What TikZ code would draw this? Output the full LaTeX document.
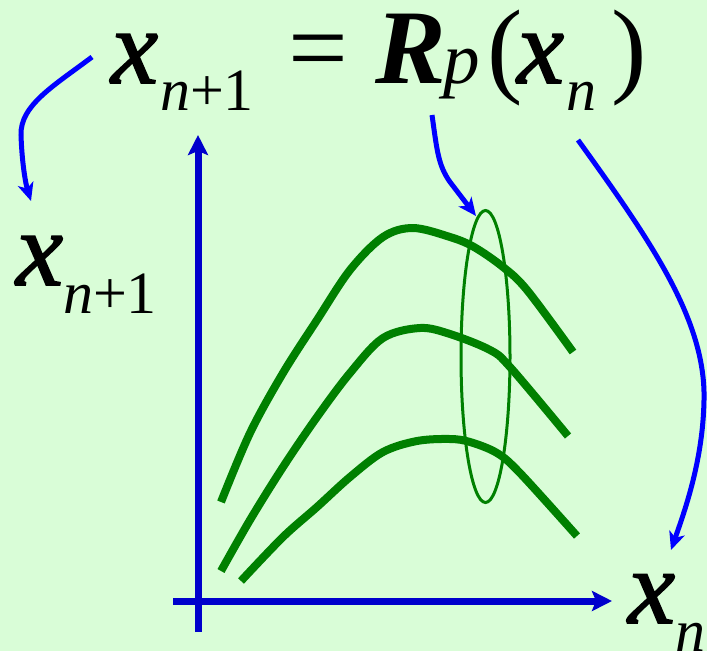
\documentclass[tikz,border=0pt]{standalone}
\usepackage{fontspec}
\setmainfont{Liberation Serif}
\newfontfamily\tnr{Liberation Serif}
\newfontface\xface{Liberation Serif Italic}[FakeBold=1.6]
\usetikzlibrary{arrows.meta,shapes.geometric}
\newcommand\mainsz{\fontsize{106}{110}\selectfont}
\newcommand\subsz{\fontsize{60}{62}\selectfont}
\newcommand\psz{\fontsize{73}{75}\selectfont}
\definecolor{bgc}{RGB}{217,253,215}
\definecolor{axisc}{RGB}{0,0,204}
\definecolor{annc}{RGB}{0,0,255}
\definecolor{curvec}{RGB}{0,128,0}
\tikzset{
  txt/.style={inner sep=0pt, outer sep=0pt, anchor=base west, text=black, font=\tnr},
  axisline/.style={draw=axisc, line width=7pt, -{Stealth[length=20pt,width=20pt,inset=4pt]}},
  annarrow/.style={draw=annc, line width=5pt, -{Stealth[length=18pt,width=16pt,inset=5pt]}},
  curveline/.style={draw=curvec, line width=8pt},
  ringline/.style={draw=curvec, line width=3pt}
}
\begin{document}
\begin{tikzpicture}[x=1pt,y=-1pt]
\fill[bgc] (0,0) rectangle (707,651);
\useasboundingbox (0,0) rectangle (707,651);
% title
\node[txt] (tx) at (111,83) {\mainsz\xface x};
\node[txt] (tsub) at (160,110) {\subsz\itshape n\upshape +1};
\node[txt] (teq) at (288,83) {\mainsz =};
\node[txt] (tR) at (375,83) {\mainsz\bfseries\itshape R};
\node[txt] (tp) at (443,83) {\psz\itshape p};
\node[txt] (tlp) at (487,83) {\mainsz (};
\node[txt] (tx2) at (517,83) {\mainsz\xface x};
\node[txt] (tn2) at (566,110) {\subsz\itshape n};
\node[txt] (trp) at (611,83) {\mainsz )};
% left label
\node[txt] (lx) at (16,285) {\mainsz\xface x};
\node[txt] (lsub) at (63,313) {\subsz\itshape n\upshape +1};
% bottom right label
\node[txt] (bx) at (628,623) {\mainsz\xface x};
\node[txt] (bn) at (675,651) {\subsz\itshape n};
% axes
\coordinate (origin) at (198,601);
\coordinate (ybot) at (198,632);
\coordinate (ytop) at (198,135);
\coordinate (xleft) at (173,601);
\coordinate (xright) at (612,601);
\draw[axisline] (ybot) -- (ytop);
\draw[axisline] (xleft) -- (xright);
% curves
\draw[curveline] plot[smooth, tension=0.55] coordinates {(221,502) (250,433) (283,373) (317,320) (350,270) (383,237) (413,228) (450,237) (474,247) (503,267) (527,290) (573,352)};
\draw[curveline] plot[smooth, tension=0.55] coordinates {(221,571) (250,520) (283,467) (317,417) (350,373) (383,338) (420,328) (450,334) (490,350) (510,367) (568,436)};
\draw[curveline] plot[smooth, tension=0.55] coordinates {(241,581) (283,537) (317,507) (350,477) (383,452) (417,441) (450,439) (470,442) (497,453) (520,473) (577,536)};
% ellipse
\node[ringline, ellipse, minimum width=49pt, minimum height=292pt, inner sep=0pt] (ring) at (485.5,356.5) {};
% annotation arrows
\coordinate (a1s) at (92,57);
\coordinate (a1e) at (31,201);
\coordinate (a2s) at (432,115);
\coordinate (a2e) at (476,216);
\coordinate (a3s) at (578,140);
\coordinate (a3e) at (671,550);
\draw[annarrow] (a1s) .. controls (55,85) and (20,105) .. (21,135) .. controls (22,165) and (26,185) .. (a1e);
\draw[annarrow] (a2s) .. controls (437,150) and (438,165) .. (450,182) -- (a2e);
\draw[annarrow] (a3s) .. controls (650,240) and (706,320) .. (704,400) .. controls (703,460) and (685,510) .. (a3e);
\end{tikzpicture}
\end{document}
